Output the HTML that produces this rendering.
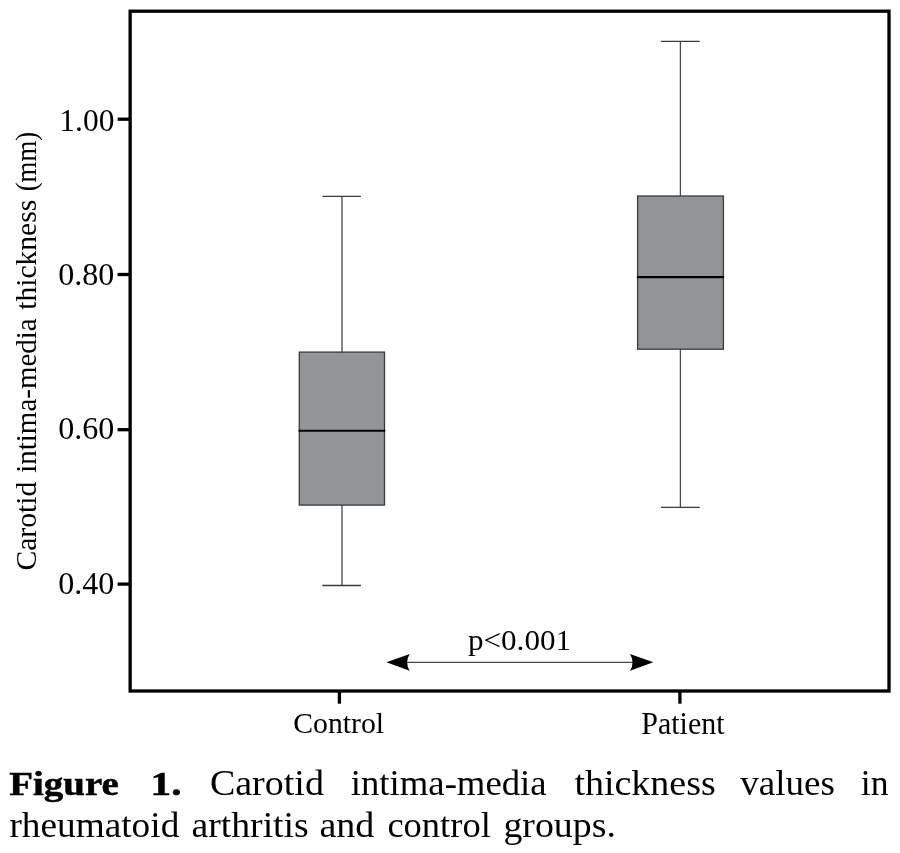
<!DOCTYPE html>
<html lang="en">
<head>
<meta charset="utf-8">
<title>Figure 1. Carotid intima-media thickness values</title>
<style>
  html, body { margin: 0; padding: 0; background: #ffffff; }
  body { width: 900px; height: 853px; overflow: hidden; }
  svg { display: block; }
  text { font-family: "Liberation Serif", serif; fill: #000000; }
  .ax { font-size: 30px; }
  .tk { font-size: 32.6px; }
  .cap { font-size: 35px; }
  .b { font-weight: bold; font-size: 34px; stroke: #000; stroke-width: 0.5px; }
</style>
</head>
<body>
<svg width="900" height="853" viewBox="0 0 900 853">
  <rect x="0" y="0" width="900" height="853" fill="#ffffff"/>

  <!-- plot frame -->
  <rect x="130.15" y="11.2" width="758.85" height="679.8" fill="none" stroke="#000" stroke-width="3.3"/>

  <!-- y ticks -->
  <g stroke="#000" stroke-width="3.3">
    <line x1="117.6" y1="119.2" x2="130" y2="119.2"/>
    <line x1="117.6" y1="274.5" x2="130" y2="274.5"/>
    <line x1="117.6" y1="429.7" x2="130" y2="429.7"/>
    <line x1="117.6" y1="584.1" x2="130" y2="584.1"/>
    <!-- x ticks -->
    <line x1="339.4" y1="691" x2="339.4" y2="703.7"/>
    <line x1="679.9" y1="691" x2="679.9" y2="703.7"/>
  </g>

  <!-- y tick labels -->
  <g class="tk">
    <text x="59.3" y="131.3" textLength="55.1" lengthAdjust="spacingAndGlyphs">1.00</text>
    <text x="58.2" y="285.4" textLength="56.2" lengthAdjust="spacingAndGlyphs">0.80</text>
    <text x="58.2" y="439.4" textLength="56.2" lengthAdjust="spacingAndGlyphs">0.60</text>
    <text x="58.2" y="594.4" textLength="56.2" lengthAdjust="spacingAndGlyphs">0.40</text>
  </g>

  <!-- y axis title -->
  <g class="ax" transform="translate(36,569.8) rotate(-90)">
    <text x="-0.8" y="0" textLength="89" lengthAdjust="spacingAndGlyphs">Carotid</text>
    <text x="97" y="0" textLength="154.5" lengthAdjust="spacingAndGlyphs">intima-media</text>
    <text x="260" y="0" textLength="110" lengthAdjust="spacingAndGlyphs">thickness</text>
    <text x="378.5" y="0" textLength="59.5" lengthAdjust="spacingAndGlyphs">(mm)</text>
  </g>

  <!-- Control box -->
  <g stroke="#3a3a3a" stroke-width="1.3" fill="none">
    <line x1="342" y1="196.4" x2="342" y2="585.5" stroke="#4a4a4a"/>
    <line x1="322.4" y1="196.4" x2="360.9" y2="196.4"/>
    <line x1="322.4" y1="585.5" x2="360.9" y2="585.5"/>
    <rect x="299.3" y="352.1" width="85.2" height="153" fill="#939495"/>
  </g>
  <line x1="298.6" y1="430.7" x2="385.2" y2="430.7" stroke="#000" stroke-width="2.1"/>

  <!-- Patient box -->
  <g stroke="#3a3a3a" stroke-width="1.3" fill="none">
    <line x1="680.4" y1="41.3" x2="680.4" y2="507.3" stroke="#4a4a4a"/>
    <line x1="660.9" y1="41.3" x2="699.7" y2="41.3"/>
    <line x1="660.9" y1="507.3" x2="699.7" y2="507.3"/>
    <rect x="637.6" y="196" width="85.8" height="153.2" fill="#939495"/>
  </g>
  <line x1="636.9" y1="277.1" x2="724.1" y2="277.1" stroke="#000" stroke-width="2.1"/>

  <!-- significance arrow -->
  <line x1="400" y1="662.3" x2="640" y2="662.3" stroke="#4a4a4a" stroke-width="1.2"/>
  <path d="M386.4 662.3 L409.7 654 Q404.5 662.3 409.7 670.7 Z" fill="#000"/>
  <path d="M653.3 662.3 L630 654 Q635.2 662.3 630 670.7 Z" fill="#000"/>
  <text class="ax" x="468" y="649.6" textLength="103" lengthAdjust="spacingAndGlyphs">p&lt;0.001</text>

  <!-- x tick labels -->
  <text class="ax" x="293.3" y="733.1" textLength="90.8" lengthAdjust="spacingAndGlyphs">Control</text>
  <text class="ax" style="font-size:31.5px" x="641.3" y="733.6" textLength="83.3" lengthAdjust="spacingAndGlyphs">Patient</text>

  <!-- caption -->
  <g class="cap">
    <text class="b" x="9.3" y="794.5" textLength="109.5" lengthAdjust="spacingAndGlyphs">Figure</text>
    <text class="b" x="150.6" y="794.5" textLength="31" lengthAdjust="spacingAndGlyphs">1.</text>
    <text x="209.9" y="794.5" textLength="114" lengthAdjust="spacingAndGlyphs">Carotid</text>
    <text x="350.8" y="794.5" textLength="195.8" lengthAdjust="spacingAndGlyphs">intima-media</text>
    <text x="574.4" y="794.5" textLength="141.3" lengthAdjust="spacingAndGlyphs">thickness</text>
    <text x="740.3" y="794.5" textLength="94.7" lengthAdjust="spacingAndGlyphs">values</text>
    <text x="860.8" y="794.5" textLength="27.7" lengthAdjust="spacingAndGlyphs">in</text>

    <text x="9.4" y="836.5" textLength="169.9" lengthAdjust="spacingAndGlyphs">rheumatoid</text>
    <text x="191.4" y="836.5" textLength="117.4" lengthAdjust="spacingAndGlyphs">arthritis</text>
    <text x="319.4" y="836.5" textLength="55" lengthAdjust="spacingAndGlyphs">and</text>
    <text x="387.4" y="836.5" textLength="103.4" lengthAdjust="spacingAndGlyphs">control</text>
    <text x="503.4" y="836.5" textLength="112.5" lengthAdjust="spacingAndGlyphs">groups.</text>
  </g>
</svg>
</body>
</html>
